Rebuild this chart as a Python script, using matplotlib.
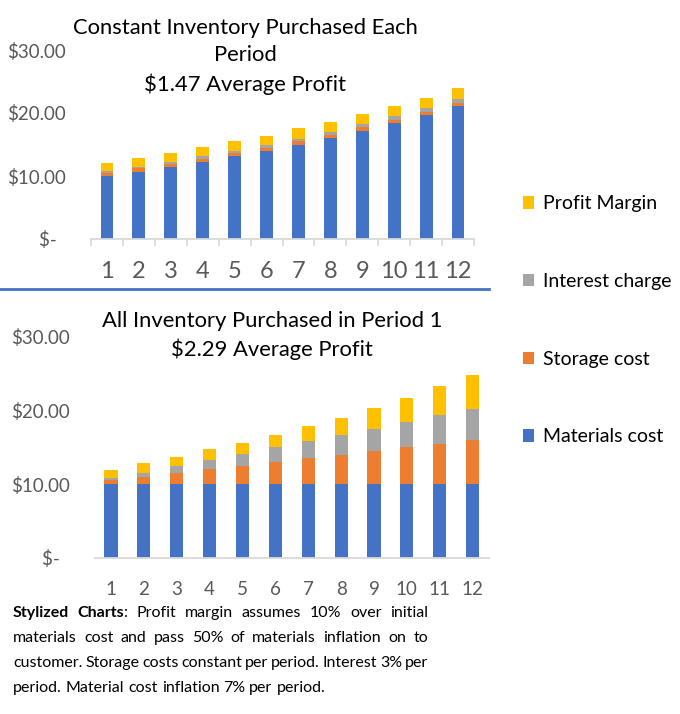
import numpy as np
import matplotlib
matplotlib.use("Agg")
import matplotlib.pyplot as plt
from matplotlib.ticker import FuncFormatter, FixedLocator
from matplotlib.patches import Patch
from matplotlib.lines import Line2D

plt.rcParams['font.family'] = ['Lato', 'DejaVu Sans']
plt.rcParams['text.parse_math'] = False

# data
periods = [str(i) for i in range(1, 13)]

# constant inventory purchased each period
materials_top = [10.0, 10.7, 11.45, 12.25, 13.1, 14.0, 15.0, 16.05, 17.2, 18.4, 19.7, 21.05]
storage_top = [0.55, 0.5, 0.5, 0.5, 0.5, 0.5, 0.5, 0.5, 0.5, 0.5, 0.5, 0.5]
interest_top = [0.3, 0.3, 0.35, 0.35, 0.4, 0.4, 0.45, 0.5, 0.5, 0.55, 0.6, 0.65]
profit_top = [1.15, 1.35, 1.35, 1.5, 1.55, 1.5, 1.6, 1.5, 1.7, 1.6, 1.6, 1.7]

# all inventory purchased in period 1
materials_bot = [10.0, 10.0, 10.0, 10.0, 10.0, 10.0, 10.0, 10.0, 10.0, 10.0, 10.0, 10.0]
storage_bot = [0.5, 1.0, 1.5, 2.0, 2.5, 3.0, 3.5, 4.0, 4.5, 5.0, 5.5, 6.0]
interest_bot = [0.3, 0.55, 0.95, 1.25, 1.55, 2.0, 2.4, 2.65, 3.0, 3.4, 3.9, 4.2]
profit_bot = [1.1, 1.35, 1.25, 1.45, 1.55, 1.65, 2.0, 2.35, 2.8, 3.3, 3.9, 4.6]

series_names = ["Materials cost", "Storage cost", "Interest charge", "Profit Margin"]
colors = ["#4472C4", "#ED7D31", "#A5A5A5", "#FFC000"]

title_top = "Constant Inventory Purchased Each\nPeriod\n$1.47 Average Profit"
title_bot = "All Inventory Purchased in Period 1\n$2.29 Average Profit"

note_lines = [
    [("Stylized", "bold"), ("Charts", "bold", ":"), ("Profit",), ("margin",), ("assumes",),
     ("10%",), ("over",), ("initial",)],
    "materials cost and pass 50% of materials inflation on to",
    "customer. Storage costs constant per period. Interest 3% per",
    "period. Material cost inflation 7% per period.",
]

W, H = 680, 714
fig = plt.figure(figsize=(W / 100, H / 100), dpi=100)

grey_txt = "#595959"
axis_col = "#D9D9D9"


def money(v, pos):
    if abs(v) < 1e-9:
        return "$-  "
    return "${:.2f}".format(v)


def stacked(ax, data, xfs, xpad, tickmarks):
    x = np.arange(len(periods))
    bottom = np.zeros(len(periods))
    for vals, c in zip(data, colors):
        ax.bar(x, vals, 0.4, bottom=bottom, color=c, zorder=2)
        bottom += np.array(vals)
    ax.set_xlim(-0.5, 11.5)
    ax.set_ylim(0, 30)
    ax.set_yticks([0, 10, 20, 30])
    ax.yaxis.set_major_formatter(FuncFormatter(money))
    ax.set_xticks(x)
    ax.set_xticklabels(periods)
    for s in ["top", "right", "left"]:
        ax.spines[s].set_visible(False)
    ax.spines["bottom"].set_color(axis_col)
    ax.spines["bottom"].set_linewidth(1.3)
    ax.tick_params(axis="y", length=0, pad=18, labelsize=13.5, labelcolor=grey_txt)
    ax.tick_params(axis="x", which="major", length=0, pad=xpad, labelsize=xfs, labelcolor=grey_txt)
    if tickmarks:
        ax.xaxis.set_minor_locator(FixedLocator(np.arange(-0.5, 12, 1.0)))
        ax.tick_params(axis="x", which="minor", length=5, width=1.2, color=axis_col)


ax1 = fig.add_axes([91 / W, 1 - 239 / H, 383 / W, 189 / H])
stacked(ax1, [materials_top, storage_top, interest_top, profit_top], 17, 16, True)
fig.text(245 / W, 1 - 18 / H, title_top, ha="center", va="top", fontsize=15.8,
         linespacing=1.45)

ax2 = fig.add_axes([94.6 / W, 1 - 557.7 / H, 394.4 / W, 221 / H])
stacked(ax2, [materials_bot, storage_bot, interest_bot, profit_bot], 13.5, 17, False)
fig.text(272 / W, 1 - 311 / H, title_bot, ha="center", va="top", fontsize=15.8,
         linespacing=1.45)

# blue separator between the two charts
fig.add_artist(Line2D([0, 489 / W], [1 - 289 / H, 1 - 289 / H], color="#4472C4", lw=2))

handles = [Patch(facecolor=c) for c in colors][::-1]
fig.legend(handles, series_names[::-1], loc="upper left", bbox_to_anchor=(505 / W, 1 - 178 / H),
           frameon=False, fontsize=14, handlelength=0.6, handleheight=0.6,
           handletextpad=0.45, labelspacing=3.12)

# justified footnote
fig.canvas.draw()
renderer = fig.canvas.get_renderer()
x0, x1 = 13, 428
fs = 11.5
for i, line in enumerate(note_lines):
    y = 1 - (613 + 25 * i) / H
    if isinstance(line, str):
        words = [(w,) for w in line.split()]
    else:
        words = line
    pieces = []
    widths = []
    for w in words:
        weight = w[1] if len(w) > 1 else "normal"
        t = fig.text(0, y, w[0], fontsize=fs, fontweight=weight, va="center", color="black")
        group = [t]
        if len(w) > 2:
            group.append(fig.text(0, y, w[2], fontsize=fs, va="center", color="black"))
        pieces.append(group)
        widths.append(sum(g.get_window_extent(renderer).width for g in group))
    if i == len(note_lines) - 1:
        gap = fs * 100 / 72 * 0.25
    else:
        gap = (x1 - x0 - sum(widths)) / (len(words) - 1)
    pos = x0
    for group, wd in zip(pieces, widths):
        p = pos
        for g in group:
            g.set_x(p / W)
            p += g.get_window_extent(renderer).width
        pos += wd + gap

fig.savefig("out.png", dpi=100)
